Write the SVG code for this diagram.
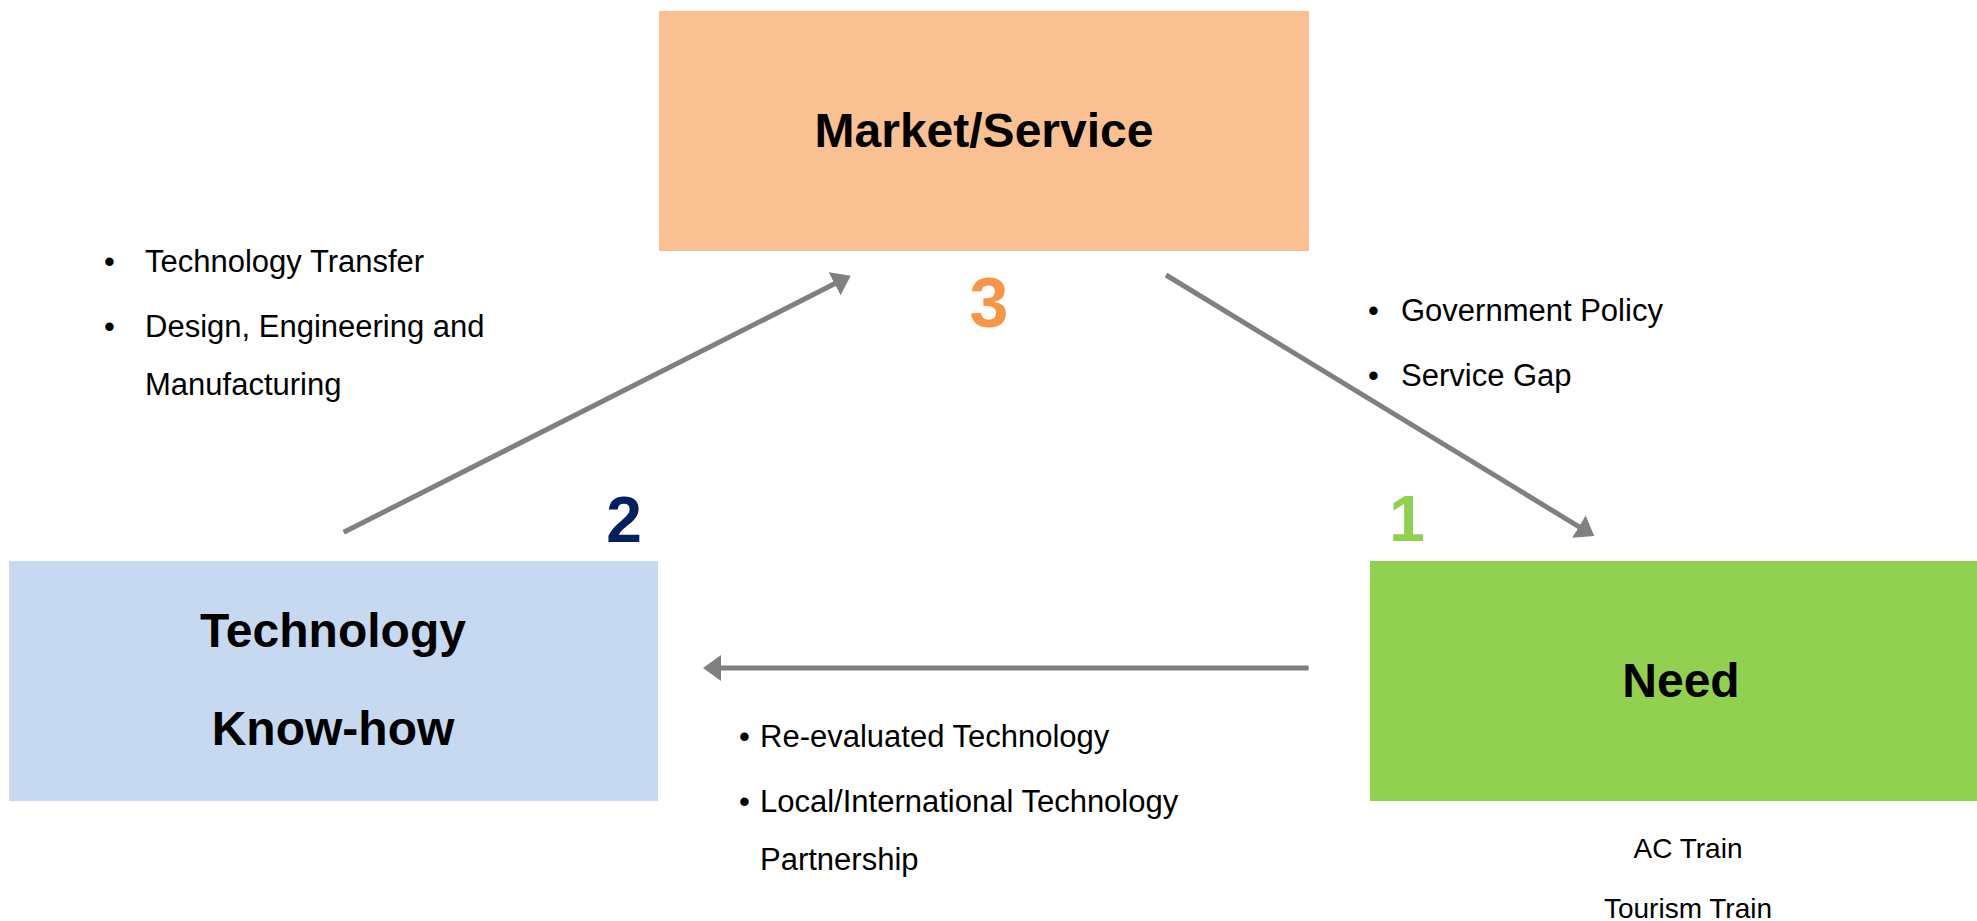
<svg xmlns="http://www.w3.org/2000/svg" width="1977" height="921" viewBox="0 0 1977 921">
  <style>
    .title { font-family: "Liberation Sans", Arial, sans-serif; font-weight: bold; font-size: 48px; fill: #000; text-anchor: middle; }
    .num { font-family: "Liberation Sans", Arial, sans-serif; font-weight: bold; text-anchor: middle; }
    .bul { font-family: "Liberation Sans", Arial, sans-serif; font-size: 31px; fill: #000; }
    .small { font-family: "Liberation Sans", Arial, sans-serif; font-size: 28px; fill: #000; text-anchor: middle; }
    .conn { stroke: #808080; stroke-width: 5; fill: none; marker-end: url(#head); }
  </style>
  <defs>
    <marker id="head" viewBox="0 0 18 26" refX="6" refY="13" markerWidth="18" markerHeight="26" markerUnits="userSpaceOnUse" orient="auto">
      <path d="M0,0 L18,13 L0,26 Z" fill="#808080"/>
    </marker>
  </defs>
  <rect width="1977" height="921" fill="#ffffff"/>

  <g id="market">
    <rect x="659" y="11" width="650" height="240" fill="#F9C091"/>
    <text class="title" x="984" y="147">Market/Service</text>
    <text class="num" x="989" y="327" font-size="70" fill="#F79646">3</text>
  </g>

  <g id="technology">
    <rect x="9" y="561" width="649" height="240" fill="#C6D9F1"/>
    <text class="title" x="333" y="647">Technology</text>
    <text class="title" x="333" y="745">Know-how</text>
    <text class="num" x="624" y="542" font-size="64" fill="#002060">2</text>
  </g>

  <g id="need">
    <rect x="1370" y="561" width="607" height="240" fill="#92D050"/>
    <text class="title" x="1681" y="697">Need</text>
    <text class="num" x="1407" y="541" font-size="64" fill="#92D050">1</text>
    <text class="small" x="1688" y="858">AC Train</text>
    <text class="small" x="1688" y="918">Tourism Train</text>
  </g>

  <g id="connectors">
    <line class="conn" x1="343.7" y1="532.3" x2="840" y2="281.1"/>
    <line class="conn" x1="1166" y1="275" x2="1584" y2="529.8"/>
    <line class="conn" x1="1308.6" y1="668" x2="715" y2="668"/>
  </g>

  <g id="label-tech-market">
    <text class="bul" x="104" y="272">•</text>
    <text class="bul" x="145" y="272">Technology Transfer</text>
    <text class="bul" x="104" y="337">•</text>
    <text class="bul" x="145" y="337">Design, Engineering and</text>
    <text class="bul" x="145" y="395">Manufacturing</text>
  </g>

  <g id="label-market-need">
    <text class="bul" x="1368" y="321">•</text>
    <text class="bul" x="1401" y="321">Government Policy</text>
    <text class="bul" x="1368" y="386">•</text>
    <text class="bul" x="1401" y="386">Service Gap</text>
  </g>

  <g id="label-need-tech">
    <text class="bul" x="739" y="747">•</text>
    <text class="bul" x="760" y="747">Re-evaluated Technology</text>
    <text class="bul" x="739" y="812">•</text>
    <text class="bul" x="760" y="812">Local/International Technology</text>
    <text class="bul" x="760" y="870">Partnership</text>
  </g>
</svg>
